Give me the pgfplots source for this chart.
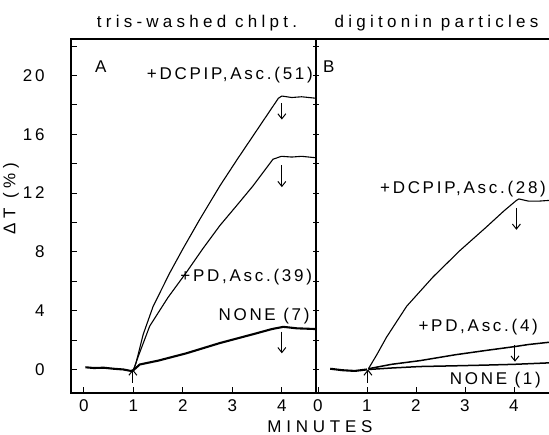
\documentclass[border=0pt]{standalone}
\usepackage{pgfplots}
\pgfplotsset{compat=1.18}
\usepackage{fontspec}
\setmainfont{Liberation Sans}[LetterSpace=16]
\newfontfamily\titlefont{Liberation Sans}[LetterSpace=25]
\newfontfamily\widefont{Liberation Sans}[LetterSpace=28]
\usetikzlibrary{arrows.meta}

\newcommand{\bigsize}{\fontsize{17bp}{20bp}\selectfont}

\pgfplotsset{
  panel/.style={
    scale only axis, height=354bp,
    ymin=-1.6, ymax=22.48,
    ytick={0,2,...,22},
    xtick={0,1,2,3,4},
    xtick pos=bottom, ytick pos=left,
    tick align=inside,
    major tick length=6bp,
    axis line style={line width=1.1bp},
    every tick/.style={black, line width=0.9bp},
    /pgf/number format/assume math mode=true,
    tick label style={font=\bigsize},
    xticklabel style={yshift=-3bp},
    yticklabel style={xshift=-23bp},
  },
  thin curve/.style={black, line width=1.1bp, line join=round},
  thick curve/.style={black, line width=2.1bp, line join=round},
  mid curve/.style={black, line width=1.5bp, line join=round},
}
\tikzset{darr/.style={-{Straight Barb[length=5bp,width=8bp]}, line width=1bp},
  lab/.style={anchor=base, font=\bigsize}}

\begin{document}
\begin{tikzpicture}[font=\bigsize]
\useasboundingbox (-71bp,-42bp) rectangle (478bp,393bp);

% ---------- Panel A ----------
\begin{axis}[panel, width=245bp, xmin=-0.26, xmax=4.69,
  at={(0,0)}, anchor=south west,
  yticklabels={0,,4,,8,,12,,16,,20,},
  xticklabels={0,1,2,3,4}]
\addplot[thick curve] coordinates {(0.03,0.15)(0.2,0.1)(0.4,0.12)(0.6,0.05)(0.8,0.0)(0.95,-0.1)(1.0,-0.05)};
\addplot[thin curve] coordinates {(1.0,-0.05)(1.05,0.4)(1.2,2.4)(1.4,4.3)(1.74,6.6)(2.0,8.2)(2.34,10.2)(2.75,12.5)(3.1,14.3)(3.42,15.9)(3.7,17.3)(3.93,18.45)(4.0,18.6)(4.2,18.5)(4.4,18.55)(4.69,18.45)};
\addplot[thin curve] coordinates {(1.0,-0.05)(1.1,0.9)(1.33,2.95)(1.7,4.9)(2.07,6.6)(2.4,8.2)(2.75,9.8)(3.1,11.2)(3.42,12.5)(3.82,14.3)(3.99,14.5)(4.2,14.45)(4.4,14.5)(4.69,14.4)};
\addplot[thick curve] coordinates {(1.0,-0.05)(1.13,0.34)(1.5,0.6)(2.07,1.1)(2.75,1.8)(3.42,2.4)(3.8,2.75)(4.03,2.9)(4.3,2.8)(4.69,2.75)};
\draw[darr] (axis cs:4.0,18.1) -- (axis cs:4.0,17.0);
\draw[darr] (axis cs:4.0,13.9) -- (axis cs:4.0,12.4);
\draw[darr] (axis cs:4.0,2.57) -- (axis cs:4.0,1.1);
\draw[darr] (axis cs:0.99,-0.9) -- (axis cs:0.99,0.0);
\node[lab] at (axis cs:0.34,20.2) {A};
\node[lab] at (axis cs:2.95,19.7) {+DCPIP,Asc.(51)};
\node[lab] at (axis cs:3.28,6.0) {+PD,Asc.(39)};
\node[lab] at (axis cs:3.64,3.3) {NONE (7)};
\end{axis}

% ---------- Panel B ----------
\begin{axis}[panel, width=233bp, xmin=-0.04, xmax=4.715,
  at={(245bp,0)}, anchor=south west,
  axis x line=box, axis y line=left,
  y axis line style={-},
  yticklabels={}, xticklabels={0,1,2,3,4}]
\addplot[thick curve] coordinates {(0.25,0.05)(0.5,-0.05)(0.75,-0.1)(1.0,0.0)};
\addplot[thin curve] coordinates {(1.03,0.05)(1.2,1.0)(1.4,2.2)(1.81,4.3)(2.35,6.3)(2.9,8.1)(3.44,9.7)(3.8,10.8)(4.05,11.5)(4.1,11.6)(4.3,11.45)(4.5,11.45)(4.715,11.5)};
\addplot[mid curve] coordinates {(1.03,0.05)(1.5,0.35)(2.08,0.6)(2.8,1.0)(3.44,1.3)(4.0,1.55)(4.3,1.7)(4.715,1.85)};
\addplot[mid curve] coordinates {(1.03,0.0)(1.5,0.1)(2.08,0.2)(2.8,0.25)(3.44,0.3)(4.0,0.35)(4.715,0.45)};
\draw[darr] (axis cs:4.05,11.0) -- (axis cs:4.05,9.5);
\draw[darr] (axis cs:4.02,1.67) -- (axis cs:4.02,0.53);
\draw[darr] (axis cs:1.02,-0.9) -- (axis cs:1.02,0.0);
\node[lab] at (axis cs:0.22,20.2) {B};
\node[lab] at (axis cs:2.96,12.0) {+DCPIP,Asc.(28)};
\node[lab] at (axis cs:3.27,2.57) {+PD,Asc.(4)};
\node[lab] at (axis cs:3.62,-1.0) {NONE (1)};
\end{axis}

\node[lab] at (126bp,365bp) {\titlefont tris-washed chlpt.};
\node[lab] at (365.5bp,365bp) {\titlefont digitonin particles};
\node[lab, inner sep=0pt] at (249bp,-39bp) {\widefont MINUTES};
\node[rotate=90, anchor=center, font=\bigsize, inner sep=0pt] at (-60bp,194.5bp) {\widefont ΔT (\%)};
\end{tikzpicture}
\end{document}
